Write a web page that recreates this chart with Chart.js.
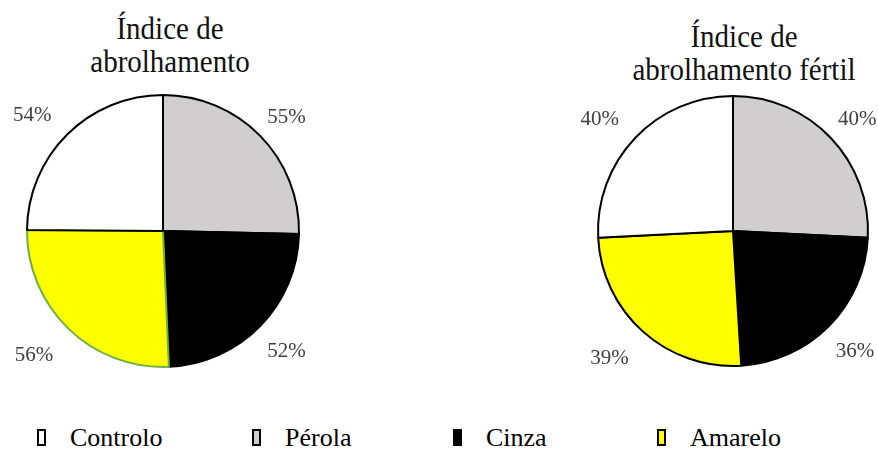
<!DOCTYPE html>
<html lang="pt">
<head>
<meta charset="utf-8">
<script src="https://cdn.jsdelivr.net/npm/chart.js@4.4.1/dist/chart.umd.min.js"></script>
<style>
  html, body { margin: 0; padding: 0; background: #fff; overflow: hidden; }
  body { width: 878px; height: 451px; position: relative; font-family: "Liberation Serif", "Times New Roman", serif; }
  .titulo { position: absolute; text-align: center; font-size: 29px; line-height: 29.5px; color: #111; width: 320px;
            transform: scaleY(1.12); transform-origin: center top; white-space: nowrap; }
  .pie { position: absolute; width: 340px; height: 340px; }
  .leg { position: absolute; top: 425px; font-size: 26px; line-height: 26px; color: #000; }
  .leg i { position: absolute; left: 0; top: 4px; width: 5px; height: 13px; border: 2px solid #000; }
  .leg span { position: absolute; white-space: nowrap; top: 0; left: 33px; }
</style>
</head>
<body>
<div class="titulo" style="left:10px; top:12px;">Índice de<br>abrolhamento</div>
<div class="titulo" style="left:584px; top:20px;">Índice de<br>abrolhamento fértil</div>

<div class="pie" style="left:-7px; top:61px;"><canvas id="pie1" width="340" height="340"></canvas></div>
<div class="pie" style="left:563px; top:61px;"><canvas id="pie2" width="340" height="340"></canvas></div>

<div id="legenda"></div>

<script>
// categorias e valores (%)
var categorias = ['Controlo', 'Pérola', 'Cinza', 'Amarelo'];
var indiceAbrolhamento = [54, 55, 52, 56];
var indiceFertil = [40, 40, 36, 39];

var cores = ['#ffffff', '#d0cece', '#000000', '#ffff00'];
// ordem das fatias a partir do topo, sentido horário
var ordem = [1, 2, 3, 0];

// escreve a percentagem fora de cada fatia
var rotulos = {
  id: 'rotulos',
  afterDatasetsDraw: function (chart) {
    var ctx = chart.ctx;
    var meta = chart.getDatasetMeta(0);
    var valores = chart.data.datasets[0].data;
    ctx.save();
    ctx.font = '21px "Liberation Serif", "Times New Roman", serif';
    ctx.fillStyle = '#404040';
    ctx.textAlign = 'center';
    ctx.textBaseline = 'middle';
    meta.data.forEach(function (arc, i) {
      var p = arc.getProps(['x', 'y', 'startAngle', 'endAngle', 'outerRadius']);
      var meio = (p.startAngle + p.endAngle) / 2;
      var d = p.outerRadius * 1.25;
      var x = p.x + Math.cos(meio) * d;
      var y = p.y + Math.sin(meio) * d + 2;
      if (Math.cos(meio) < 0) x -= 11;
      else x += 2;
      if (Math.sin(meio) < 0) y += 3;
      ctx.fillText(valores[i] + '%', x, y);
    });
    ctx.restore();
  }
};

function criarPie(id, valores, raio, bordas) {
  var ctx = document.getElementById(id).getContext('2d');
  return new Chart(ctx, {
    type: 'pie',
    data: {
      labels: ordem.map(function (i) { return categorias[i]; }),
      datasets: [{
        data: ordem.map(function (i) { return valores[i]; }),
        backgroundColor: ordem.map(function (i) { return cores[i]; }),
        borderColor: bordas,
        borderWidth: 2,
        radius: raio
      }]
    },
    options: {
      responsive: false,
      animation: false,
      layout: { padding: 0 },
      plugins: {
        legend: { display: false },
        tooltip: { enabled: false }
      }
    },
    plugins: [rotulos]
  });
}

criarPie('pie1', indiceAbrolhamento, 136, ['#000', '#000', '#70ad47', '#000']);
criarPie('pie2', indiceFertil, 135, '#000');

// legenda
var posLegenda = [37, 252, 453, 657];
var leg = document.getElementById('legenda');
categorias.forEach(function (nome, i) {
  var d = document.createElement('div');
  d.className = 'leg';
  d.style.left = posLegenda[i] + 'px';
  d.innerHTML = '<i style="background:' + cores[i] + '"></i><span>' + nome + '</span>';
  leg.appendChild(d);
});
</script>
</body>
</html>
